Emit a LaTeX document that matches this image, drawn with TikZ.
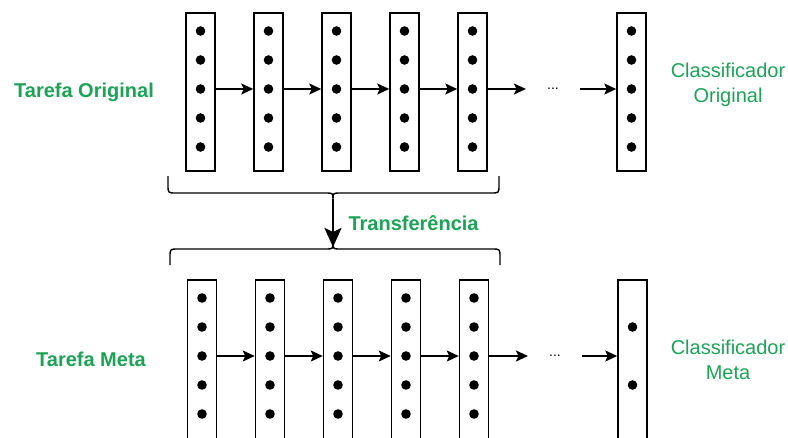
\documentclass[tikz,border=0pt]{standalone}
\usepackage{fontspec}
\setmainfont{Liberation Sans}
\usetikzlibrary{arrows.meta,positioning}
\definecolor{leaf}{HTML}{1BA356}

\begin{document}
\begin{tikzpicture}[x=1pt,y=-1pt,
  font=\fontsize{20}{25}\selectfont,
  layer/.style={draw,line width=1.5pt,minimum width=29pt,minimum height=158pt,inner sep=0pt,anchor=north},
  flow/.style={-{Stealth[length=12pt,width=11pt,inset=2.5pt]},line width=1.7pt},
  transfer/.style={-{Stealth[length=19pt,width=17pt,inset=4pt]},line width=2.4pt},
  ellipsis/.style={font=\fontsize{14}{14}\selectfont,inner xsep=21pt,inner ysep=0pt},
  tag/.style={text=leaf,align=center},
  tagbold/.style={tag,font=\fontsize{20}{25}\selectfont\bfseries},
  brace/.style={line width=1.4pt,line join=round}]
\useasboundingbox (0,0) rectangle (788,437);
\clip (0,0) rectangle (788,437);

% original task: hidden layers + classifier
\foreach \n/\x in {1/186,2/254,3/322,4/390,5/458}{
  \node[layer] (o\n) at (\x+14.5,12) {};
  \foreach \k in {0,...,4}{\fill (\x+14.5,31+29*\k) circle (4.8pt);}
}
\node[layer] (oc) at (631.5,12) {};
\foreach \k in {0,...,4}{\fill (631.5,31+29*\k) circle (4.8pt);}
\node[ellipsis] (odots) at (553,89) {...};
\foreach \a/\b in {1/2,2/3,3/4,4/5}
  {\draw[flow] ([yshift=-77pt]o\a.north east) -- ([yshift=-77pt]o\b.north west);}
\draw[flow] ([yshift=-77pt]o5.north east) -- (odots.west);
\draw[flow] (odots.east) -- ([yshift=-77pt]oc.north west);

% target task: bottom boxes run off the page
\foreach \n/\x in {1/187.5,2/255.5,3/323.5,4/391.5,5/459.5}{
  \node[layer,minimum height=164pt] (m\n) at (\x+14.5,279) {};
  \foreach \k in {0,...,4}{\fill (\x+14.5,298+29*\k) circle (4.8pt);}
}
\node[layer,minimum height=164pt] (mc) at (632.5,279) {};
\foreach \k in {1,3}{\fill (632.5,298+29*\k) circle (4.8pt);}
\node[ellipsis] (mdots) at (555,356) {...};
\foreach \a/\b in {1/2,2/3,3/4,4/5}
  {\draw[flow] ([yshift=-77pt]m\a.north east) -- ([yshift=-77pt]m\b.north west);}
\draw[flow] ([yshift=-77pt]m5.north east) -- (mdots.west);
\draw[flow] (mdots.east) -- ([yshift=-77pt]mc.north west);

% braces and transfer arrow
\draw[brace] (168,176) -- (168,185) .. controls (168,193) .. (176,193) -- (325,193)
  .. controls (333,193) .. (333,199) .. controls (333,193) .. (341,193) -- (491,193)
  .. controls (499,193) .. (499,185) -- (499,176);
\draw[brace] (170,265) -- (170,257) .. controls (170,249) .. (178,249) -- (325,249)
  .. controls (333,249) .. (333,243) .. controls (333,249) .. (341,249) -- (492,249)
  .. controls (500,249) .. (500,257) -- (500,265);
\coordinate (srctip) at (333,199);
\coordinate (dsttip) at (333,247);
\draw[transfer] (srctip) -- (dsttip) node[midway,right=11pt,tagbold] (xfer) {Transferência};

% labels
\node[tagbold] (origtask) at (84,92) {Tarefa Original};
\node[tagbold] (metatask) at (91,359) {Tarefa Meta};
\node[tag] (origcls) at (728,85) {Classificador\\Original};
\node[tag] (metacls) at (728,359.5) {Classificador\\Meta};
\end{tikzpicture}
\end{document}
